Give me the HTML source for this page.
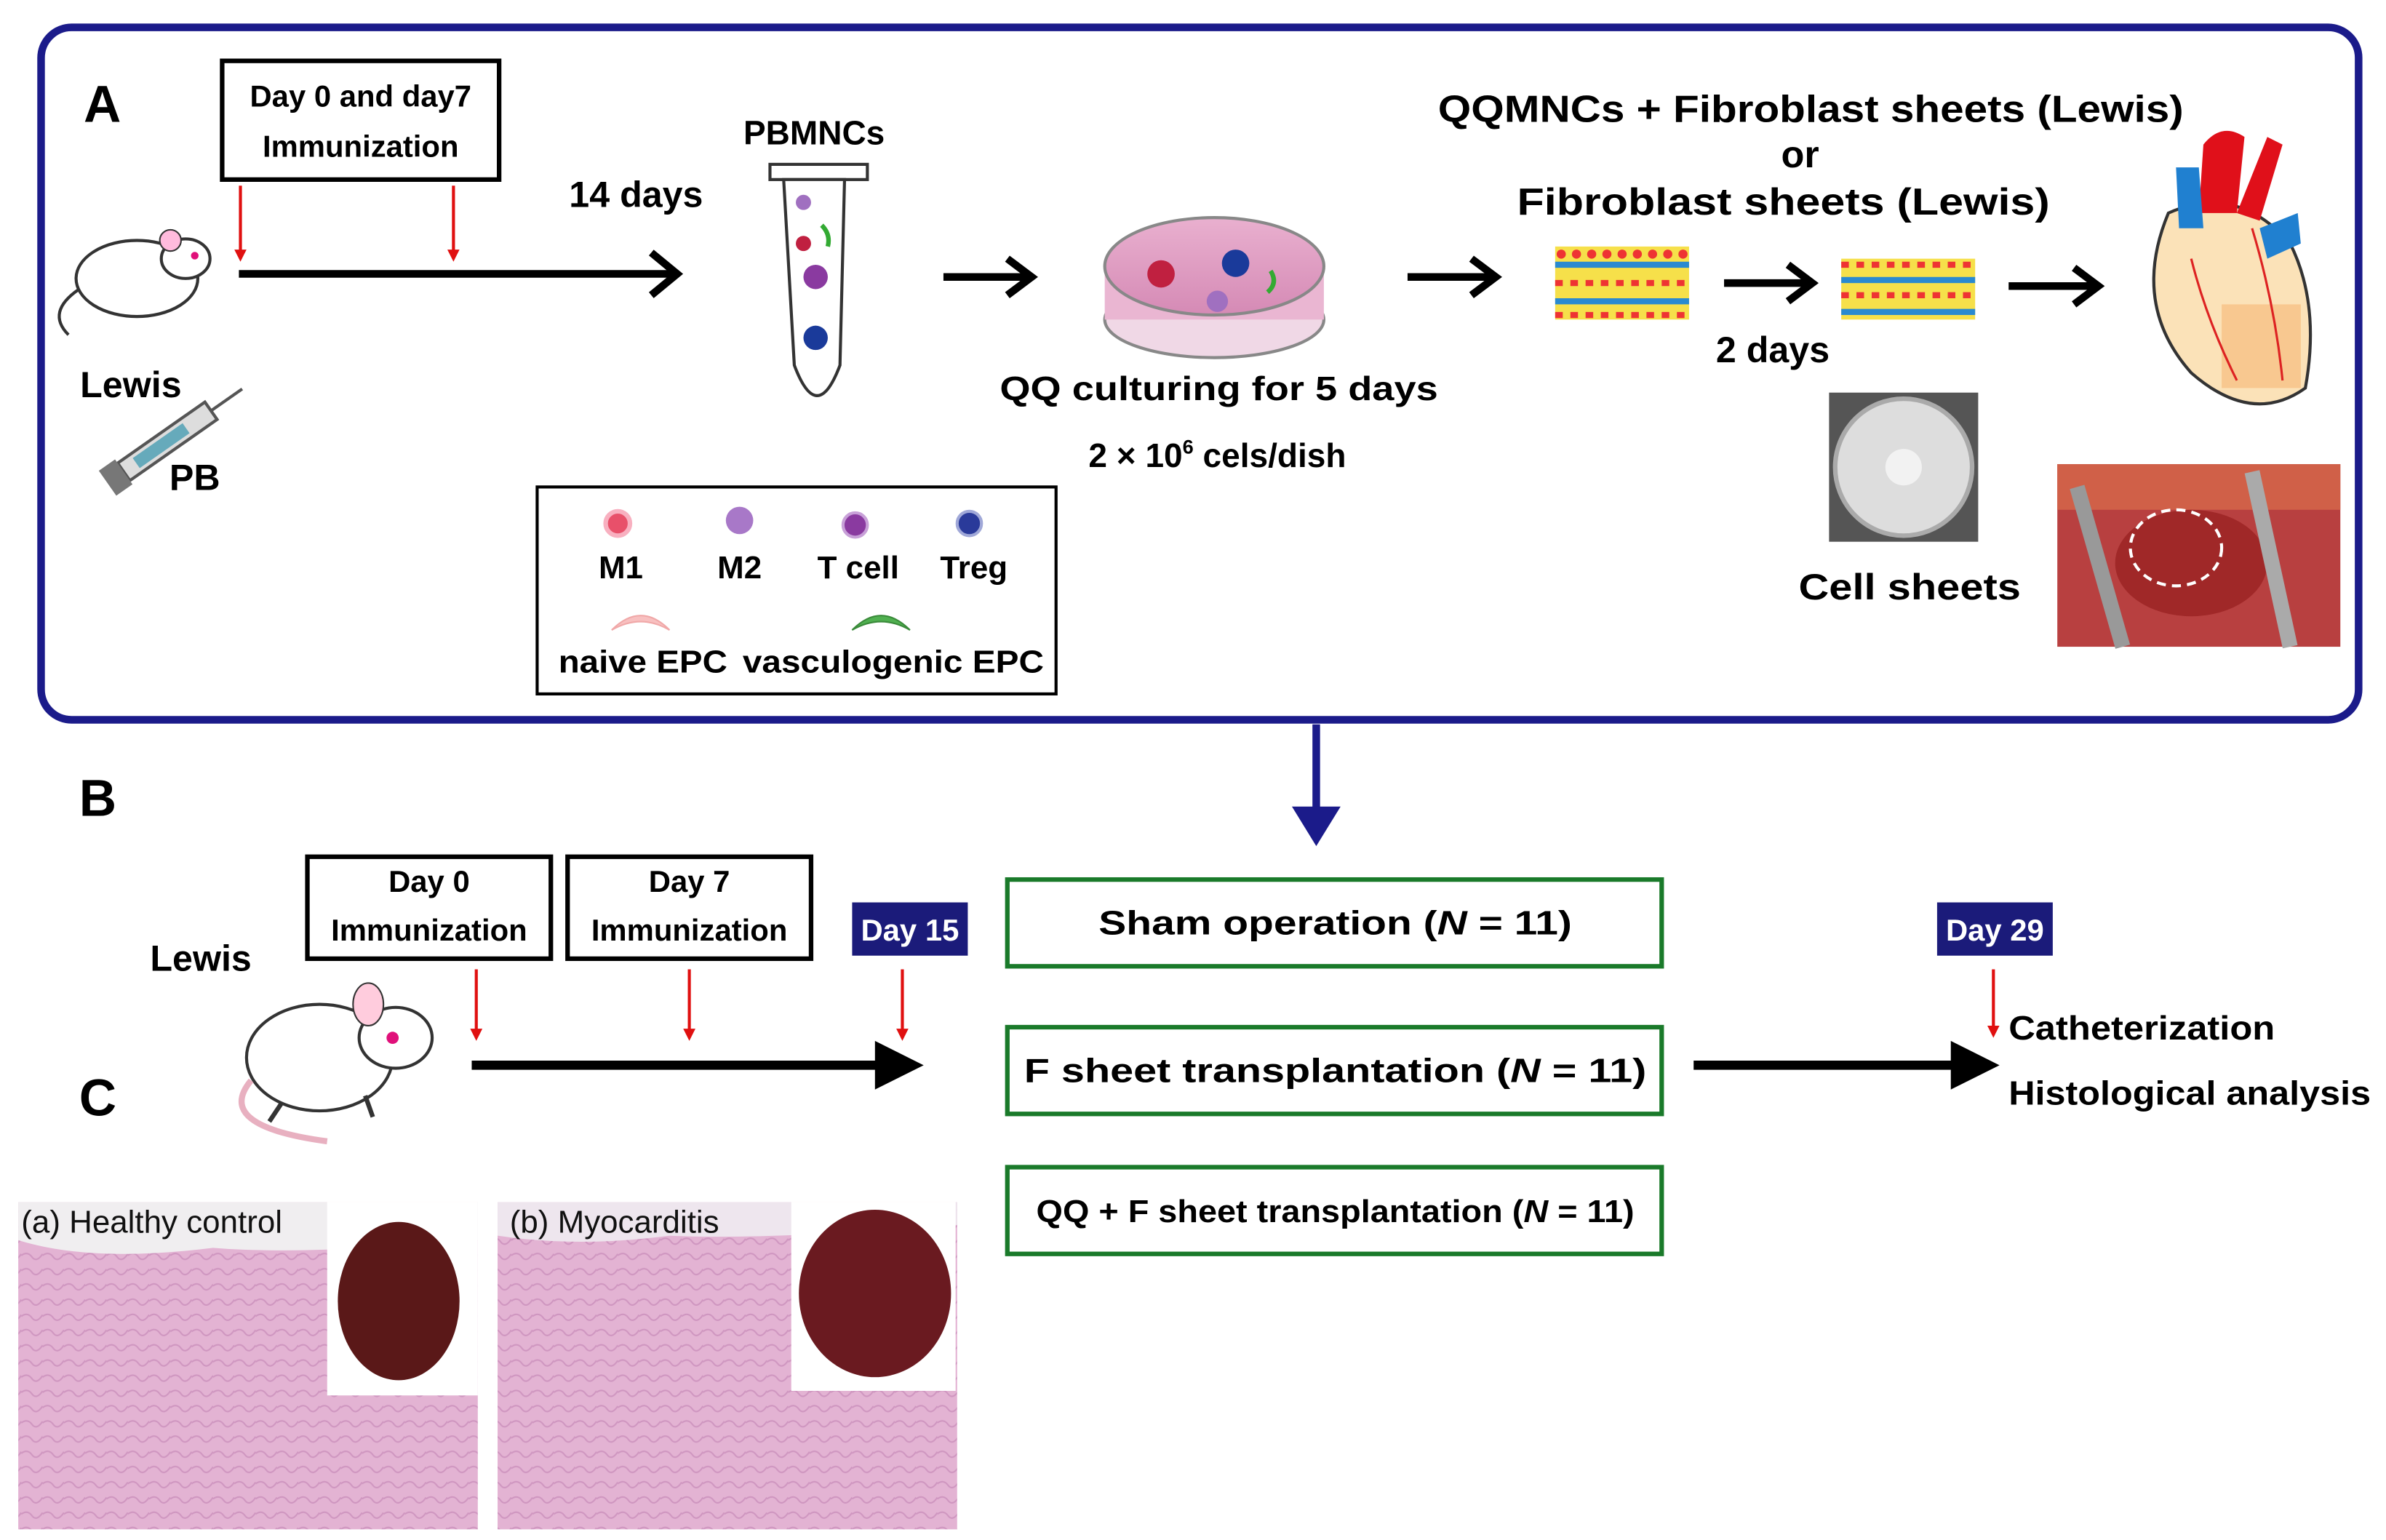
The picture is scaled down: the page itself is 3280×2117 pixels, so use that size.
<!DOCTYPE html>
<html><head><meta charset="utf-8"><style>
html,body{margin:0;padding:0;background:#fff;}
svg{display:block;}
text{font-family:"Liberation Sans",Arial,sans-serif;}
.b{font-weight:bold;}
</style></head><body>
<svg width="3280" height="2117" viewBox="0 0 1568 1012" preserveAspectRatio="none" xmlns="http://www.w3.org/2000/svg">
<defs>
<marker id="rh" markerWidth="8" markerHeight="8" refX="6" refY="4" orient="auto" markerUnits="userSpaceOnUse"><path d="M0,0 L8,4 L0,8 Z" fill="#e01010"/></marker>
<linearGradient id="pink" x1="0" y1="0" x2="0" y2="1"><stop offset="0" stop-color="#e9b0cf"/><stop offset="1" stop-color="#d58ab5"/></linearGradient>
<pattern id="tis" width="14" height="10" patternUnits="userSpaceOnUse"><rect width="14" height="10" fill="#e3b3d3"/><path d="M0,5 Q4,2 7,6 T14,4" stroke="#cf96c0" fill="none" stroke-width="1"/></pattern>
</defs>

<!-- Panel A -->
<rect x="27" y="18" width="1523" height="455" rx="20" fill="none" stroke="#1b1b8a" stroke-width="5"/>
<text x="55" y="80" class="b" font-size="34">A</text>

<rect x="146" y="40" width="182" height="78" fill="none" stroke="#000" stroke-width="3"/>
<text x="237" y="70" class="b" font-size="20" text-anchor="middle">Day 0 and day7</text>
<text x="237" y="103" class="b" font-size="20" text-anchor="middle">Immunization</text>
<line x1="158" y1="122" x2="158" y2="170" stroke="#e01010" stroke-width="2" marker-end="url(#rh)"/>
<line x1="298" y1="122" x2="298" y2="170" stroke="#e01010" stroke-width="2" marker-end="url(#rh)"/>
<line x1="157" y1="180" x2="443" y2="180" stroke="#000" stroke-width="5"/>
<path d="M428,166 L445,180 L428,194" fill="none" stroke="#000" stroke-width="5"/>
<text x="418" y="136" class="b" font-size="24" text-anchor="middle">14 days</text>

<!-- mouse A -->
<ellipse cx="90" cy="183" rx="40" ry="25" fill="#fff" stroke="#333" stroke-width="2"/>
<ellipse cx="122" cy="170" rx="16" ry="13" fill="#fff" stroke="#333" stroke-width="2"/>
<circle cx="112" cy="158" r="7" fill="#fbd" stroke="#333"/>
<circle cx="128" cy="168" r="2.5" fill="#e0107a"/>
<path d="M52,190 Q30,205 45,220" fill="none" stroke="#333" stroke-width="2"/>
<text x="86" y="261" class="b" font-size="24" text-anchor="middle">Lewis</text>
<g transform="rotate(-35 110 290)"><rect x="75" y="283" width="70" height="14" fill="#ddd" stroke="#555" stroke-width="2"/><rect x="85" y="286" width="40" height="8" fill="#6ab"/><line x1="145" y1="290" x2="170" y2="290" stroke="#555" stroke-width="2"/><rect x="62" y="280" width="13" height="20" fill="#777"/></g>
<text x="128" y="322" class="b" font-size="24" text-anchor="middle">PB</text>

<!-- tube -->
<text x="535" y="95" class="b" font-size="22" text-anchor="middle">PBMNCs</text>
<rect x="506" y="108" width="64" height="10" fill="#fff" stroke="#333" stroke-width="2"/>
<path d="M515,118 L555,118 L552,240 Q537,280 522,240 Z" fill="#fff" stroke="#333" stroke-width="2"/>
<circle cx="528" cy="133" r="5" fill="#a070c0"/><circle cx="528" cy="160" r="5" fill="#c02040"/><circle cx="536" cy="182" r="8" fill="#8a3aa0"/><circle cx="536" cy="222" r="8" fill="#1a3a9a"/>
<path d="M540,148 q6,6 4,14" stroke="#3a3" stroke-width="3" fill="none"/>

<line x1="620" y1="182" x2="675" y2="182" stroke="#000" stroke-width="5"/><path d="M662,170 L678,182 L662,194" fill="none" stroke="#000" stroke-width="5"/>
<!-- dish -->
<ellipse cx="798" cy="210" rx="72" ry="25" fill="#f0d8e6" stroke="#888" stroke-width="2"/>
<rect x="726" y="175" width="144" height="35" fill="#eab6d2"/>
<ellipse cx="798" cy="175" rx="72" ry="32" fill="url(#pink)" stroke="#888" stroke-width="2"/>
<circle cx="763" cy="180" r="9" fill="#c02040"/><circle cx="812" cy="173" r="9" fill="#1a3a9a"/><circle cx="800" cy="198" r="7" fill="#a070c0"/><path d="M835,178 q5,8 -2,14" stroke="#3a3" stroke-width="3" fill="none"/>
<text x="657" y="263" class="b" font-size="22" textLength="288" lengthAdjust="spacingAndGlyphs">QQ culturing for 5 days</text>
<text x="800" y="307" class="b" font-size="22" text-anchor="middle">2 × 10<tspan font-size="13" dy="-9">6</tspan><tspan dy="9"> cels/dish</tspan></text>

<line x1="925" y1="182" x2="980" y2="182" stroke="#000" stroke-width="5"/><path d="M967,170 L983,182 L967,194" fill="none" stroke="#000" stroke-width="5"/>
<text x="945" y="80" class="b" font-size="25" textLength="490" lengthAdjust="spacingAndGlyphs">QQMNCs + Fibroblast sheets (Lewis)</text>
<text x="1183" y="110" class="b" font-size="25" text-anchor="middle">or</text>
<text x="997" y="141" class="b" font-size="25" textLength="350" lengthAdjust="spacingAndGlyphs">Fibroblast  sheets (Lewis)</text>
<g>
<rect x="1022" y="162" width="88" height="48" fill="#f6e04a"/>
<g fill="#e33"><circle cx="1026" cy="167" r="3"/><circle cx="1036" cy="167" r="3"/><circle cx="1046" cy="167" r="3"/><circle cx="1056" cy="167" r="3"/><circle cx="1066" cy="167" r="3"/><circle cx="1076" cy="167" r="3"/><circle cx="1086" cy="167" r="3"/><circle cx="1096" cy="167" r="3"/><circle cx="1106" cy="167" r="3"/></g>
<line x1="1022" y1="174" x2="1110" y2="174" stroke="#2a8ad0" stroke-width="4"/><line x1="1022" y1="186" x2="1110" y2="186" stroke="#e33" stroke-width="4" stroke-dasharray="5 5"/><line x1="1022" y1="198" x2="1110" y2="198" stroke="#2a8ad0" stroke-width="4"/><line x1="1022" y1="207" x2="1110" y2="207" stroke="#e33" stroke-width="4" stroke-dasharray="5 5"/>
</g>
<g transform="translate(188,0)">
<rect x="1022" y="170" width="88" height="40" fill="#f6e04a"/>
<line x1="1022" y1="174" x2="1110" y2="174" stroke="#e33" stroke-width="4" stroke-dasharray="5 5"/><line x1="1022" y1="184" x2="1110" y2="184" stroke="#2a8ad0" stroke-width="4"/><line x1="1022" y1="194" x2="1110" y2="194" stroke="#e33" stroke-width="4" stroke-dasharray="5 5"/><line x1="1022" y1="205" x2="1110" y2="205" stroke="#2a8ad0" stroke-width="4"/>
</g>
<line x1="1133" y1="186" x2="1188" y2="186" stroke="#000" stroke-width="5"/><path d="M1175,174 L1191,186 L1175,198" fill="none" stroke="#000" stroke-width="5"/>
<text x="1165" y="238" class="b" font-size="24" text-anchor="middle">2 days</text>
<line x1="1320" y1="188" x2="1376" y2="188" stroke="#000" stroke-width="5"/><path d="M1363,176 L1379,188 L1363,200" fill="none" stroke="#000" stroke-width="5"/>
<!-- heart -->
<path d="M1425,140 Q1400,200 1440,245 Q1480,280 1515,255 Q1525,200 1505,160 Q1470,120 1425,140 Z" fill="#fbe2b8" stroke="#333" stroke-width="2"/>
<path d="M1445,140 L1448,95 Q1460,80 1475,90 L1470,140 Z" fill="#e0101a"/>
<path d="M1470,140 L1490,90 L1500,95 L1485,145 Z" fill="#e0101a"/>
<path d="M1430,110 L1445,110 L1448,150 L1432,150 Z" fill="#2080d0"/>
<path d="M1485,150 L1510,140 L1512,160 L1490,170 Z" fill="#2080d0"/>
<rect x="1460" y="200" width="52" height="55" fill="#f8c890"/>
<path d="M1440,170 Q1450,210 1470,250 M1480,150 Q1495,200 1500,250" stroke="#d22" stroke-width="1.5" fill="none"/>
<!-- cell sheet photo -->
<rect x="1202" y="258" width="98" height="98" fill="#555"/>
<circle cx="1251" cy="307" r="45" fill="#ddd" stroke="#aaa" stroke-width="3"/><circle cx="1251" cy="307" r="12" fill="#f2f2f2"/>
<text x="1182" y="394" class="b" font-size="24" textLength="146" lengthAdjust="spacingAndGlyphs">Cell sheets</text>
<!-- surgery photo -->
<rect x="1352" y="305" width="186" height="120" fill="#b84040"/>
<rect x="1352" y="305" width="186" height="30" fill="#d06048"/>
<ellipse cx="1440" cy="370" rx="50" ry="35" fill="#a02828"/>
<path d="M1365,320 L1395,425" stroke="#999" stroke-width="10"/><path d="M1480,310 L1505,425" stroke="#aaa" stroke-width="10"/>
<ellipse cx="1430" cy="360" rx="30" ry="25" fill="none" stroke="#fff" stroke-width="2" stroke-dasharray="6 4"/>

<!-- legend -->
<rect x="353" y="320" width="341" height="136" fill="#fff" stroke="#000" stroke-width="2"/>
<circle cx="406" cy="344" r="8" fill="#e8506a" stroke="#f8b0c0" stroke-width="3"/>
<circle cx="486" cy="342" r="9" fill="#a878c8"/>
<circle cx="562" cy="345" r="8" fill="#8a3aa0" stroke="#c8a0d8" stroke-width="2"/>
<circle cx="637" cy="344" r="8" fill="#2a3a9a" stroke="#a0a8d8" stroke-width="2"/>
<text x="408" y="380" class="b" font-size="21" text-anchor="middle">M1</text>
<text x="486" y="380" class="b" font-size="21" text-anchor="middle">M2</text>
<text x="564" y="380" class="b" font-size="21" text-anchor="middle">T cell</text>
<text x="640" y="380" class="b" font-size="21" text-anchor="middle">Treg</text>
<path d="M402,414 Q421,395 440,414 Q421,403 402,414 Z" fill="#f8c0c0" stroke="#f0a8a8"/>
<path d="M560,414 Q579,395 598,414 Q579,403 560,414 Z" fill="#50b050" stroke="#3a8a3a"/>
<text x="367" y="442" class="b" font-size="21" textLength="111" lengthAdjust="spacingAndGlyphs">naive EPC</text>
<text x="488" y="442" class="b" font-size="21" textLength="198" lengthAdjust="spacingAndGlyphs">vasculogenic EPC</text>

<!-- blue arrow -->
<line x1="865" y1="476" x2="865" y2="535" stroke="#1b1b8a" stroke-width="5"/>
<path d="M849,530 L881,530 L865,556 Z" fill="#1b1b8a"/>

<!-- Panel B -->
<text x="52" y="536" class="b" font-size="34">B</text>
<text x="132" y="638" class="b" font-size="24" text-anchor="middle">Lewis</text>
<rect x="202" y="563" width="160" height="67" fill="none" stroke="#000" stroke-width="3"/>
<text x="282" y="586" class="b" font-size="20" text-anchor="middle">Day 0</text>
<text x="282" y="618" class="b" font-size="20" text-anchor="middle">Immunization</text>
<rect x="373" y="563" width="160" height="67" fill="none" stroke="#000" stroke-width="3"/>
<text x="453" y="586" class="b" font-size="20" text-anchor="middle">Day 7</text>
<text x="453" y="618" class="b" font-size="20" text-anchor="middle">Immunization</text>
<rect x="560" y="593" width="76" height="35" fill="#1b1b7a"/>
<text x="598" y="618" class="b" font-size="20" fill="#fff" text-anchor="middle">Day 15</text>
<line x1="313" y1="637" x2="313" y2="682" stroke="#e01010" stroke-width="2" marker-end="url(#rh)"/>
<line x1="453" y1="637" x2="453" y2="682" stroke="#e01010" stroke-width="2" marker-end="url(#rh)"/>
<line x1="593" y1="637" x2="593" y2="682" stroke="#e01010" stroke-width="2" marker-end="url(#rh)"/>
<line x1="310" y1="700" x2="580" y2="700" stroke="#000" stroke-width="6"/>
<path d="M575,684 L607,700 L575,716 Z" fill="#000"/>
<!-- mouse B -->
<ellipse cx="210" cy="695" rx="48" ry="35" fill="#fff" stroke="#333" stroke-width="2"/>
<ellipse cx="260" cy="682" rx="24" ry="20" fill="#fff" stroke="#333" stroke-width="2"/>
<ellipse cx="242" cy="660" rx="10" ry="14" fill="#fcd" stroke="#333"/>
<circle cx="258" cy="682" r="4" fill="#e0107a"/>
<path d="M165,710 Q140,740 215,750" fill="none" stroke="#e8b0c0" stroke-width="4"/>
<path d="M185,725 l-8,12 M240,720 l5,14" stroke="#333" stroke-width="3"/>
<text x="52" y="733" class="b" font-size="34">C</text>

<rect x="662" y="578" width="430" height="57" fill="none" stroke="#1a7a2a" stroke-width="3"/>
<text x="722" y="614" class="b" font-size="22" textLength="311" lengthAdjust="spacingAndGlyphs">Sham operation (<tspan font-style="italic">N</tspan> = 11)</text>
<rect x="662" y="675" width="430" height="57" fill="none" stroke="#1a7a2a" stroke-width="3"/>
<text x="673" y="711" class="b" font-size="22" textLength="409" lengthAdjust="spacingAndGlyphs">F sheet transplantation (<tspan font-style="italic">N</tspan> = 11)</text>
<rect x="662" y="767" width="430" height="57" fill="none" stroke="#1a7a2a" stroke-width="3"/>
<text x="681" y="803" class="b" font-size="21" textLength="393" lengthAdjust="spacingAndGlyphs">QQ + F sheet transplantation (<tspan font-style="italic">N</tspan> = 11)</text>

<line x1="1113" y1="700" x2="1285" y2="700" stroke="#000" stroke-width="6"/>
<path d="M1282,684 L1314,700 L1282,716 Z" fill="#000"/>
<rect x="1273" y="593" width="76" height="35" fill="#1b1b7a"/>
<text x="1311" y="618" class="b" font-size="20" fill="#fff" text-anchor="middle">Day 29</text>
<line x1="1310" y1="637" x2="1310" y2="680" stroke="#e01010" stroke-width="2" marker-end="url(#rh)"/>
<text x="1320" y="683" class="b" font-size="22" textLength="175" lengthAdjust="spacingAndGlyphs">Catheterization</text>
<text x="1320" y="726" class="b" font-size="22" textLength="238" lengthAdjust="spacingAndGlyphs">Histological analysis</text>

<!-- Panel C images -->
<rect x="12" y="790" width="302" height="215" fill="url(#tis)"/>
<path d="M12,790 L314,790 L314,815 Q200,825 140,820 Q60,830 12,815 Z" fill="#f0eef0"/>
<rect x="215" y="790" width="99" height="127" fill="#fff"/>
<ellipse cx="262" cy="855" rx="40" ry="52" fill="#5a1818"/>
<text x="14" y="810" font-size="21" fill="#111">(a) Healthy control</text>
<rect x="327" y="790" width="302" height="215" fill="url(#tis)"/>
<path d="M327,790 L629,790 L629,805 Q500,815 440,812 Q380,820 327,812 Z" fill="#eee6ee"/>
<rect x="520" y="790" width="108" height="124" fill="#fff"/>
<ellipse cx="575" cy="850" rx="50" ry="55" fill="#6a1a20"/>
<text x="335" y="810" font-size="21" fill="#111">(b) Myocarditis</text>
</svg>
</body></html>
